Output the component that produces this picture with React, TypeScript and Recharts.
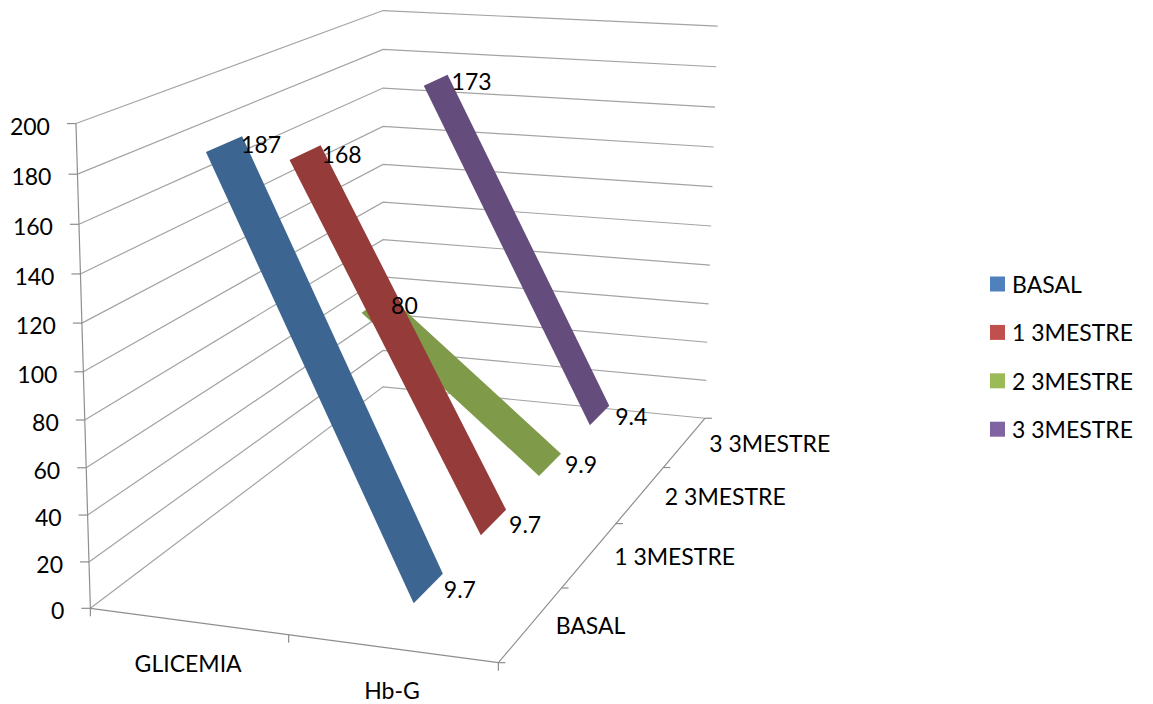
import React from "react";
import { ScatterChart, Scatter, XAxis, YAxis } from "recharts";

const WIDTH = 1153;
const HEIGHT = 704;
const FONT = "Lato, 'Open Sans', sans-serif";
const FONT_SIZE = 23;

// Chart data
const categories = ["GLICEMIA", "Hb-G"];
const seriesNames = ["BASAL", "1 3MESTRE", "2 3MESTRE", "3 3MESTRE"];
const basal = [187, 9.7];
const trimester1 = [168, 9.7];
const trimester2 = [80, 9.9];
const trimester3 = [173, 9.4];
const seriesValues = [basal, trimester1, trimester2, trimester3];
const valueTicks = [0, 20, 40, 60, 80, 100, 120, 140, 160, 180, 200];
const VALUE_MAX = 200;

const legendColors = ["#4f81bd", "#c0504d", "#9bbb59", "#8064a2"];
const ribbonColors = ["#3c6691", "#953c3a", "#7f9a49", "#644d7d"];

// Camera calibration for the 3D plot box: [category, depth, value] in 0..1 -> screen position.
const cameraAnchors: number[][] = [
  [0, 0, 0, 90.7, 607.7],
  [1, 0, 0, 498.3, 663.3],
  [0, 1, 0, 383, 388],
  [1, 1, 0, 705, 417.3],
  [0, 0, 1, 76, 124],
  [0, 1, 1, 383, 10],
  [1, 1, 1, 717.7, 26.3],
  [0.5, 0, 0, 288, 635.3],
  [1, 0.25, 0, 561.7, 588.3],
  [1, 0.5, 0, 616, 523.3],
  [1, 0.75, 0, 663.3, 466.7],
  [0, 0, 0.5, 83.5, 371],
  [0, 1, 0.5, 383, 202],
  [1, 1, 0.5, 711, 227],
];

// Least-squares fit of the 11 perspective coefficients.
function fitCamera(anchors: number[][]): number[] {
  const n = 11;
  const A = Array.from({ length: n }, () => new Array(n + 1).fill(0));
  const addRow = (row: number[], rhs: number) => {
    for (let i = 0; i < n; i++) {
      for (let j = 0; j < n; j++) A[i][j] += row[i] * row[j];
      A[i][n] += row[i] * rhs;
    }
  };
  anchors.forEach(([c, s, v, px, py]) => {
    const u = px / 1000;
    const w = py / 1000;
    addRow([c, s, v, 1, 0, 0, 0, 0, -u * c, -u * s, -u * v], u);
    addRow([0, 0, 0, 0, c, s, v, 1, -w * c, -w * s, -w * v], w);
  });
  for (let i = 0; i < n; i++) {
    let pivot = i;
    for (let r = i + 1; r < n; r++) if (Math.abs(A[r][i]) > Math.abs(A[pivot][i])) pivot = r;
    [A[i], A[pivot]] = [A[pivot], A[i]];
    for (let r = 0; r < n; r++) {
      if (r === i) continue;
      const f = A[r][i] / A[i][i];
      for (let k = i; k <= n; k++) A[r][k] -= f * A[i][k];
    }
  }
  return A.map((row, i) => row[n] / row[i]);
}

const cam = fitCamera(cameraAnchors);

function project(c: number, s: number, v: number) {
  const d = cam[8] * c + cam[9] * s + cam[10] * v + 1;
  return {
    x: (1000 * (cam[0] * c + cam[1] * s + cam[2] * v + cam[3])) / d,
    y: (1000 * (cam[4] * c + cam[5] * s + cam[6] * v + cam[7])) / d,
  };
}

const shift = (p: { x: number; y: number }, dx: number, dy: number) => ({ x: p.x + dx, y: p.y + dy });

const catPos = (i: number) => (i + 0.5) / categories.length;
const depthPos = (j: number) => (j + 0.5) / seriesNames.length;
const RIBBON_HALF_DEPTH = 0.052;

function ribbon(j: number) {
  const vals = seriesValues[j];
  const s = depthPos(j);
  return [
    project(catPos(0), s - RIBBON_HALF_DEPTH, vals[0] / VALUE_MAX),
    project(catPos(0), s + RIBBON_HALF_DEPTH, vals[0] / VALUE_MAX),
    project(catPos(1), s + RIBBON_HALF_DEPTH, vals[1] / VALUE_MAX),
    project(catPos(1), s - RIBBON_HALF_DEPTH, vals[1] / VALUE_MAX),
  ];
}

const noMarker = () => <g />;

const textMark = (anchor: string) => (props: any) => (
  <text
    x={props.cx}
    y={props.cy}
    textAnchor={anchor}
    dominantBaseline="central"
    fontFamily={FONT}
    fontSize={FONT_SIZE}
    fill="#000"
  >
    {props.payload.label}
  </text>
);

const polyline = (key: string, pts: { x: number; y: number }[], stroke: string) => (
  <Scatter key={key} data={pts} isAnimationActive={false} shape={noMarker} line={{ stroke, strokeWidth: 1.2 }} />
);

const GRID = "#a3a3a3";
const AXIS = "#8e8e8e";

// Wall gridlines run from the front-left edge to the back corner and on to the right.
const gridLines = valueTicks.map((t) =>
  polyline(
    `grid-${t}`,
    [project(0, 0, t / VALUE_MAX), project(0, 1, t / VALUE_MAX), project(1, 1, t / VALUE_MAX)],
    GRID
  )
);

const axisLines = [
  polyline("axis-value", [project(0, 0, 0), project(0, 0, 1)], AXIS),
  polyline("axis-cat", [project(0, 0, 0), project(1, 0, 0)], AXIS),
  polyline("axis-depth", [project(1, 0, 0), project(1, 1, 0)], AXIS),
  ...valueTicks.map((t) => {
    const p = project(0, 0, t / VALUE_MAX);
    return polyline(`tick-v-${t}`, [p, shift(p, -9, 0)], AXIS);
  }),
  ...[0, 0.5, 1].map((c) => {
    const p = project(c, 0, 0);
    return polyline(`tick-c-${c}`, [p, shift(p, 0, 8)], AXIS);
  }),
  ...[0, 0.25, 0.5, 0.75, 1].map((s) => {
    const p = project(1, s, 0);
    return polyline(`tick-s-${s}`, [p, shift(p, 7, 0)], AXIS);
  }),
];

const valueTickLabels = valueTicks.map((t) => ({
  ...shift(project(0, 0, t / VALUE_MAX), -26, 2),
  label: String(t),
}));

const categoryLabels = categories.map((name, i) => ({
  ...shift(project(catPos(i), 0, 0), 0, 41.5),
  label: name,
}));

const depthLabels = seriesNames.map((name, j) => ({
  ...shift(project(1, depthPos(j), 0), 24.5, 1),
  label: name,
}));

// Label placement beside each ribbon end, per series: [first point, second point] as [dx, dy].
const valueLabelOffsets = [
  [[-1, 8], [1, 15]],
  [[1, 9], [3, 14]],
  [[3, 10], [4, 10]],
  [[4, 6], [6, 10]],
];

const valueLabels = seriesValues.flatMap((vals, j) =>
  vals.map((v, i) => ({
    ...shift(
      project(catPos(i), depthPos(j) + RIBBON_HALF_DEPTH, v / VALUE_MAX),
      valueLabelOffsets[j][i][0],
      valueLabelOffsets[j][i][1]
    ),
    label: String(v),
  }))
);

// Legend rows sit in the SVG, one swatch and one name per series.
const LEGEND_X = 997.5;
const LEGEND_TOP = 284;
const LEGEND_STEP = 48.4;
const SWATCH = 15;

const legendRows = seriesNames.map((name, j) => ({
  x: LEGEND_X,
  y: LEGEND_TOP + j * LEGEND_STEP,
  label: name,
  color: legendColors[j],
}));

const legendRow = (props: any) => (
  <g>
    <rect
      x={props.cx - SWATCH / 2}
      y={props.cy - SWATCH / 2}
      width={SWATCH}
      height={SWATCH}
      fill={props.payload.color}
    />
    <text
      x={props.cx + 14.5}
      y={props.cy}
      dominantBaseline="central"
      fontFamily={FONT}
      fontSize={FONT_SIZE}
      fill="#000"
    >
      {props.payload.label}
    </text>
  </g>
);

export default function App() {
  // Far series are painted first so nearer ribbons overlap them.
  const order = [3, 2, 1, 0];
  return (
    <div style={{ position: "absolute", left: 0, top: 0, width: WIDTH, height: HEIGHT, background: "#fff" }}>
      <ScatterChart width={WIDTH} height={HEIGHT} margin={{ top: 0, right: 0, bottom: 0, left: 0 }}>
        <XAxis type="number" dataKey="x" domain={[0, WIDTH]} hide allowDataOverflow />
        <YAxis type="number" dataKey="y" domain={[0, HEIGHT]} reversed hide allowDataOverflow />
        {gridLines}
        {axisLines}
        {order.map((j) => (
          <Scatter
            key={seriesNames[j]}
            name={seriesNames[j]}
            data={ribbon(j)}
            fill={legendColors[j]}
            isAnimationActive={false}
            shape={noMarker}
            line={{ fill: ribbonColors[j], stroke: "none" }}
          />
        ))}
        <Scatter data={valueTickLabels} isAnimationActive={false} shape={textMark("end")} />
        <Scatter data={categoryLabels} isAnimationActive={false} shape={textMark("middle")} />
        <Scatter data={depthLabels} isAnimationActive={false} shape={textMark("start")} />
        <Scatter data={valueLabels} isAnimationActive={false} shape={textMark("start")} />
        <Scatter data={legendRows} isAnimationActive={false} shape={legendRow} />
      </ScatterChart>
    </div>
  );
}
